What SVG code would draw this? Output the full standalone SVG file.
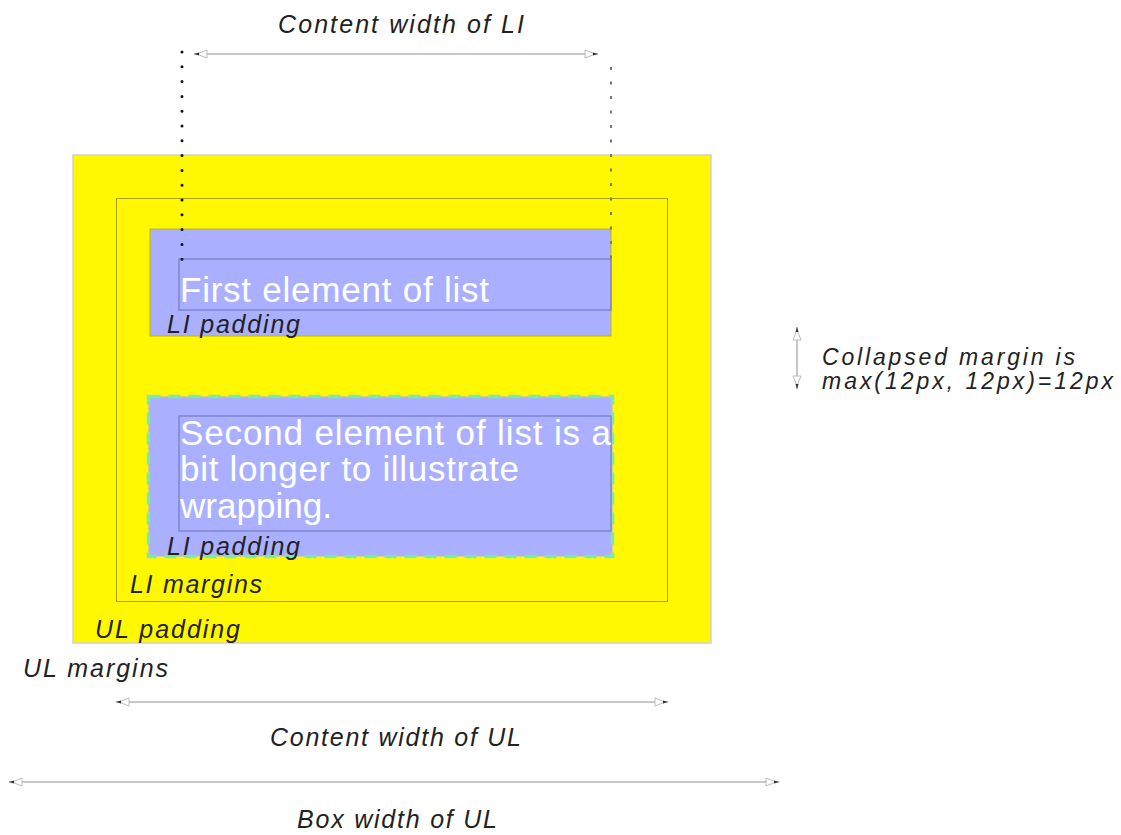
<svg xmlns="http://www.w3.org/2000/svg" width="1121" height="835" viewBox="0 0 1121 835">
<style>
.lbl{font-family:"Liberation Sans",Arial,sans-serif;font-style:italic;font-size:25px;fill:#222}
.sm{font-size:23px}
.li{font-family:"Liberation Sans",Arial,sans-serif;font-size:35px;fill:#fff}
.dim{stroke:#c8c8c8;stroke-width:2;fill:none;marker-start:url(#ah);marker-end:url(#ah)}
.content{fill:none;stroke:#8085cc;stroke-width:1.5}
</style>
<defs>
<marker id="ah" viewBox="0 0 16 10" refX="15" refY="5" markerWidth="16" markerHeight="10" markerUnits="userSpaceOnUse" orient="auto-start-reverse">
<path d="M2,1 L12,5 L2,9 Z" fill="#fff" stroke="#bbb" stroke-width="1"/>
<path d="M10,3.5 L15,5 L10,6.5 Z" fill="#333"/>
</marker>
</defs>
<rect width="1121" height="835" fill="#fff"/>
<g id="ul">
<rect x="73" y="155" width="638" height="488" fill="#fff800" stroke="#cfcfcf" stroke-width="1.5"/>
<rect x="116.5" y="198.5" width="551" height="403" fill="none" stroke="#a8a000" stroke-width="1"/>
<text class="lbl" x="95" y="638" textLength="145">UL padding</text>
<text class="lbl" x="130" y="593" textLength="132">LI margins</text>
<text class="lbl" x="23" y="677" textLength="145" fill="#333">UL margins</text>
</g>
<g id="li1">
<rect x="150" y="229" width="461" height="107" fill="#aab0ff" stroke="#c0b800" stroke-width="1"/>
<rect class="content" x="179" y="259" width="432" height="51"/>
<text class="li" x="180" y="302" textLength="309">First element of list</text>
<text class="lbl" x="167" y="333" textLength="133">LI padding</text>
</g>
<g id="li2">
<rect x="148.5" y="396.5" width="464" height="160" fill="#aab0ff" stroke="#7fe8a8" stroke-width="3.5" stroke-dasharray="12 8"/>
<rect class="content" x="179" y="416" width="432" height="115"/>
<text class="li" x="180" y="445" textLength="431">Second element of list is a</text>
<text class="li" x="180" y="481" textLength="339">bit longer to illustrate</text>
<text class="li" x="180" y="518" textLength="152">wrapping.</text>
<text class="lbl" x="167" y="555" textLength="133">LI padding</text>
</g>
<g id="connectors">
<line x1="182" y1="52" x2="182" y2="260" stroke="#111" stroke-width="3" stroke-linecap="round" stroke-dasharray="0 14.8"/>
<line x1="611" y1="67" x2="611" y2="260" stroke="#777" stroke-width="2" stroke-dasharray="3 11.5"/>
<line class="dim" x1="194" y1="54" x2="598" y2="54"/>
<line class="dim" x1="116" y1="702" x2="668" y2="702"/>
<line class="dim" x1="9" y1="782" x2="779" y2="782"/>
<line class="dim" x1="797" y1="327" x2="797" y2="389"/>
</g>
<g id="labels">
<text class="lbl" x="278" y="33" textLength="246" fill="#333">Content width of LI</text>
<text class="lbl" x="270" y="746" textLength="251" fill="#333">Content width of UL</text>
<text class="lbl" x="297" y="828" textLength="200">Box width of UL</text>
<text class="lbl sm" x="822" y="365" textLength="253" fill="#333">Collapsed margin is</text>
<text class="lbl sm" x="822" y="389" textLength="291" fill="#333">max(12px, 12px)=12px</text>
</g>
</svg>
